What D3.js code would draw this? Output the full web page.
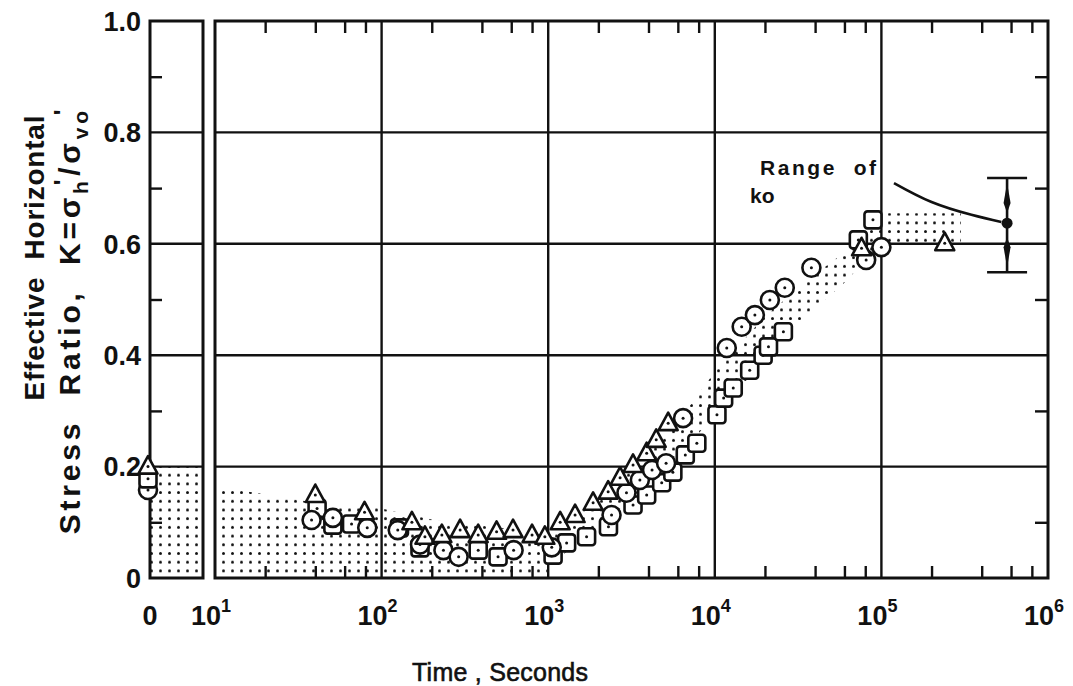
<!DOCTYPE html>
<html>
<head>
<meta charset="utf-8">
<script src="https://cdn.jsdelivr.net/npm/d3@7"></script>
<style>
  body { margin: 0; background: #fff; }
  svg text { font-family: "Liberation Sans", Arial, sans-serif; fill: #111; }
</style>
</head>
<body>
<svg id="chart" width="1073" height="686"></svg>
<script>
"use strict";

// values: [time (s), K]
const zeroPoints = { triangle: 0.2, square: 0.178, circle: 0.158 };

const circles = [[38,0.104],[51,0.108],[82,0.09],[125,0.086],[170,0.06],[235,0.05],[290,0.038],
  [620,0.05],[1050,0.055],[2400,0.113],[2950,0.153],[3550,0.176],[4200,0.194],[5100,0.206],
  [6450,0.287],[11800,0.413],[14500,0.451],[17400,0.472],[21400,0.499],[26300,0.521],
  [38000,0.557],[81000,0.571],[100000,0.594]];

const squares = [[41,0.125],[51,0.095],[66,0.097],[128,0.09],[170,0.054],[380,0.05],[500,0.038],
  [1070,0.041],[1290,0.063],[1700,0.074],[2300,0.092],[3230,0.131],[3900,0.149],[4800,0.171],
  [5600,0.19],[6650,0.221],[7800,0.242],[10300,0.293],[11300,0.323],[12900,0.341],[16200,0.373],
  [19500,0.40],[21000,0.415],[25800,0.442],[72700,0.607],[89000,0.643]];

const triangles = [[40,0.149],[79,0.118],[152,0.10],[182,0.074],[230,0.077],[296,0.086],[380,0.077],
  [490,0.083],[615,0.086],[800,0.077],[955,0.074],[1180,0.10],[1450,0.113],[1860,0.135],
  [2290,0.155],[2700,0.18],[3230,0.203],[3900,0.224],[4450,0.248],[5250,0.278],[76000,0.592],
  [240000,0.601]];

// stippled band (upper edge left->right, lower edge right->left)
const bandUpper = [[10,0.165],[20,0.15],[40,0.135],[100,0.125],[200,0.105],[500,0.09],[1000,0.085],
  [1500,0.11],[3000,0.19],[6000,0.28],[10000,0.37],[20000,0.47],[40000,0.545],[70000,0.6],
  [90000,0.655],[300000,0.655]];
const bandLower = [[300000,0.6],[100000,0.6],[60000,0.53],[30000,0.45],[15000,0.35],[8000,0.26],
  [4000,0.17],[2000,0.09],[1200,0.04],[1000,0],[10,0]];
const zeroBandTop = 0.2;

// range of ko annotation
const koTime = 568000;
const koValue = 0.637;
const koRange = [0.549, 0.718];
const koLeader = [[119000,0.709],[200000,0.675],[347000,0.652],[525000,0.639]];

const xDecades = [1, 2, 3, 4, 5, 6];
const xGrid = [1e2, 1e3, 1e4, 1e5];
const minorMult = [2, 4, 6, 8];
const yGrid = [0.2, 0.4, 0.6, 0.8];
const yMinor = [0.1, 0.3, 0.5, 0.7, 0.9];
const yLabels = [[0,"0"],[0.2,"0.2"],[0.4,"0.4"],[0.6,"0.6"],[0.8,"0.8"],[1,"1.0"]];

const INK = "#111";
const svg = d3.select("#chart");

const x = d3.scaleLog().domain([10, 1e6]).range([215, 1048]);
const y = d3.scaleLinear().domain([0, 1]).range([578, 21]);
const ZERO = { x0: 150, x1: 203 };

const minorTicks = [];
xDecades.slice(0, -1).forEach(d => minorMult.forEach(m => minorTicks.push(m * Math.pow(10, d))));

// stipple pattern
const defs = svg.append("defs");
defs.append("pattern").attr("id", "stipple").attr("patternUnits", "userSpaceOnUse")
  .attr("x", 3).attr("y", 1).attr("width", 9).attr("height", 8.7)
  .append("circle").attr("cx", 4.5).attr("cy", 4.3).attr("r", 1.5).attr("fill", INK);

svg.append("rect").attr("x", ZERO.x0).attr("y", y(zeroBandTop))
  .attr("width", ZERO.x1 - ZERO.x0).attr("height", y(0) - y(zeroBandTop))
  .attr("fill", "url(#stipple)");

const band = bandUpper.concat(bandLower);
svg.append("path")
  .attr("d", d3.line().x(d => x(d[0])).y(d => y(d[1]))(band) + "Z")
  .attr("fill", "url(#stipple)");

// gridlines
const grid = svg.append("g").attr("stroke", INK).attr("stroke-width", 2.4);
yGrid.forEach(v => {
  grid.append("line").attr("x1", ZERO.x0).attr("x2", ZERO.x1).attr("y1", y(v)).attr("y2", y(v));
  grid.append("line").attr("x1", x.range()[0]).attr("x2", x.range()[1]).attr("y1", y(v)).attr("y2", y(v));
});
xGrid.forEach(v => {
  grid.append("line").attr("x1", x(v)).attr("x2", x(v)).attr("y1", y(0)).attr("y2", y(1));
});

// minor ticks (inward)
function tickAxis(axis, tx, ty) {
  const g = svg.append("g").attr("transform", `translate(${tx},${ty})`).call(axis);
  g.select(".domain").remove();
  g.selectAll(".tick line").attr("stroke", INK).attr("stroke-width", 2.4);
  g.selectAll(".tick text").remove();
}
tickAxis(d3.axisBottom(x).tickValues(minorTicks).tickSize(-12).tickFormat(""), 0, y(0));
tickAxis(d3.axisTop(x).tickValues(minorTicks).tickSize(-12).tickFormat(""), 0, y(1));
tickAxis(d3.axisRight(y).tickValues(yMinor).tickSize(-13).tickFormat(""), x.range()[1], 0);
tickAxis(d3.axisLeft(y).tickValues(yMinor).tickSize(-12).tickFormat(""), ZERO.x0, 0);

// frames
svg.append("rect").attr("x", ZERO.x0).attr("y", y(1)).attr("width", ZERO.x1 - ZERO.x0)
  .attr("height", y(0) - y(1)).attr("fill", "none").attr("stroke", INK).attr("stroke-width", 3);
svg.append("rect").attr("x", x.range()[0]).attr("y", y(1)).attr("width", x.range()[1] - x.range()[0])
  .attr("height", y(0) - y(1)).attr("fill", "none").attr("stroke", INK).attr("stroke-width", 3);

// markers
const shapes = {
  circle: g => g.append("circle").attr("r", 9),
  square: g => g.append("rect").attr("x", -8.5).attr("y", -8.5).attr("width", 17).attr("height", 17).attr("rx", 3),
  triangle: g => g.append("path").attr("d", "M0,-10.5L9.5,7L-9.5,7Z")
};
function drawSeries(points, shape, px) {
  const g = svg.append("g");
  points.forEach(p => {
    const m = g.append("g").attr("transform", `translate(${px(p)},${y(p[1])})`);
    shapes[shape](m).attr("fill", "#fff").attr("stroke", INK).attr("stroke-width", 2.6)
      .attr("stroke-linejoin", "round");
    m.append("circle").attr("r", 1.5).attr("fill", INK);
  });
}
const px = p => x(p[0]);
drawSeries(squares, "square", px);
drawSeries(circles, "circle", px);
drawSeries(triangles, "triangle", px);
drawSeries([[0, zeroPoints.circle]], "circle", () => ZERO.x0 - 2);
drawSeries([[0, zeroPoints.square]], "square", () => ZERO.x0 - 2);
drawSeries([[0, zeroPoints.triangle]], "triangle", () => ZERO.x0 - 2);

// range of ko
svg.append("path")
  .attr("d", d3.line().x(d => x(d[0])).y(d => y(d[1])).curve(d3.curveNatural)(koLeader))
  .attr("fill", "none").attr("stroke", INK).attr("stroke-width", 2.6);
const kx = x(koTime);
const ko = svg.append("g").attr("stroke", INK).attr("stroke-width", 2.6);
ko.append("line").attr("x1", kx).attr("x2", kx).attr("y1", y(koRange[0])).attr("y2", y(koRange[1]));
koRange.forEach(v => ko.append("line").attr("x1", kx - 20).attr("x2", kx + 20).attr("y1", y(v)).attr("y2", y(v)));
[[koRange[1], -1], [koRange[0], 1]].forEach(([v, dir]) => {
  const tip = y(v) - dir * 5;
  const base = tip - dir * 20;
  svg.append("path")
    .attr("d", `M${kx},${tip}L${kx + 3.5},${base}L${kx},${base - dir * 10}L${kx - 3.5},${base}Z`)
    .attr("fill", INK);
});
svg.append("circle").attr("cx", kx).attr("cy", y(koValue)).attr("r", 5.5).attr("fill", INK);

svg.append("text").attr("x", 760).attr("y", 175).attr("font-size", 21).attr("font-weight", "bold")
  .attr("xml:space", "preserve").attr("textLength", 116).attr("lengthAdjust", "spacing").text("Range  of");
svg.append("text").attr("x", 750).attr("y", 203).attr("font-size", 21).attr("font-weight", "bold").text("ko");

// y tick labels
svg.append("g").selectAll("text").data(yLabels).join("text")
  .attr("x", 141).attr("y", d => y(d[0])).attr("dy", "0.36em").attr("text-anchor", "end")
  .attr("font-size", 27).attr("font-weight", "bold").text(d => d[1]);

// x tick labels
const xl = svg.append("g").attr("font-size", 27).attr("font-weight", "bold");
xl.append("text").attr("x", ZERO.x0).attr("y", 625).attr("text-anchor", "middle").text("0");
xDecades.forEach(d => {
  const t = xl.append("text").attr("x", x(Math.pow(10, d)) - 4).attr("y", 625).attr("text-anchor", "middle");
  t.append("tspan").text("10");
  t.append("tspan").attr("dy", -13).attr("font-size", 18).text(d);
});

// axis titles
svg.append("text").attr("x", 500).attr("y", 681).attr("text-anchor", "middle")
  .attr("font-size", 25).attr("stroke", INK).attr("stroke-width", 0.6)
  .attr("xml:space", "preserve").attr("textLength", 176).attr("lengthAdjust", "spacing")
  .text("Time , Seconds");

svg.append("text").attr("transform", "translate(44,258) rotate(-90)")
  .attr("text-anchor", "middle").attr("font-size", 28).attr("font-weight", "bold")
  .attr("xml:space", "preserve").attr("textLength", 285).attr("lengthAdjust", "spacing")
  .text("Effective  Horizontal");

const yt2 = svg.append("text").attr("transform", "translate(80,320) rotate(-90)")
  .attr("text-anchor", "middle").attr("font-size", 30).attr("font-weight", "bold")
  .attr("letter-spacing", 3.8).attr("xml:space", "preserve");
yt2.append("tspan").text("Stress  Ratio,  K=σ");
yt2.append("tspan").attr("dy", 8).attr("font-size", 21).text("h");
yt2.append("tspan").attr("dy", -17).attr("dx", -8).attr("font-size", 24).text("'");
yt2.append("tspan").attr("dy", 9).text("/σ");
yt2.append("tspan").attr("dy", 8).attr("font-size", 21).text("vo");
yt2.append("tspan").attr("dy", -17).attr("dx", -8).attr("font-size", 24).text("'");
</script>
</body>
</html>
